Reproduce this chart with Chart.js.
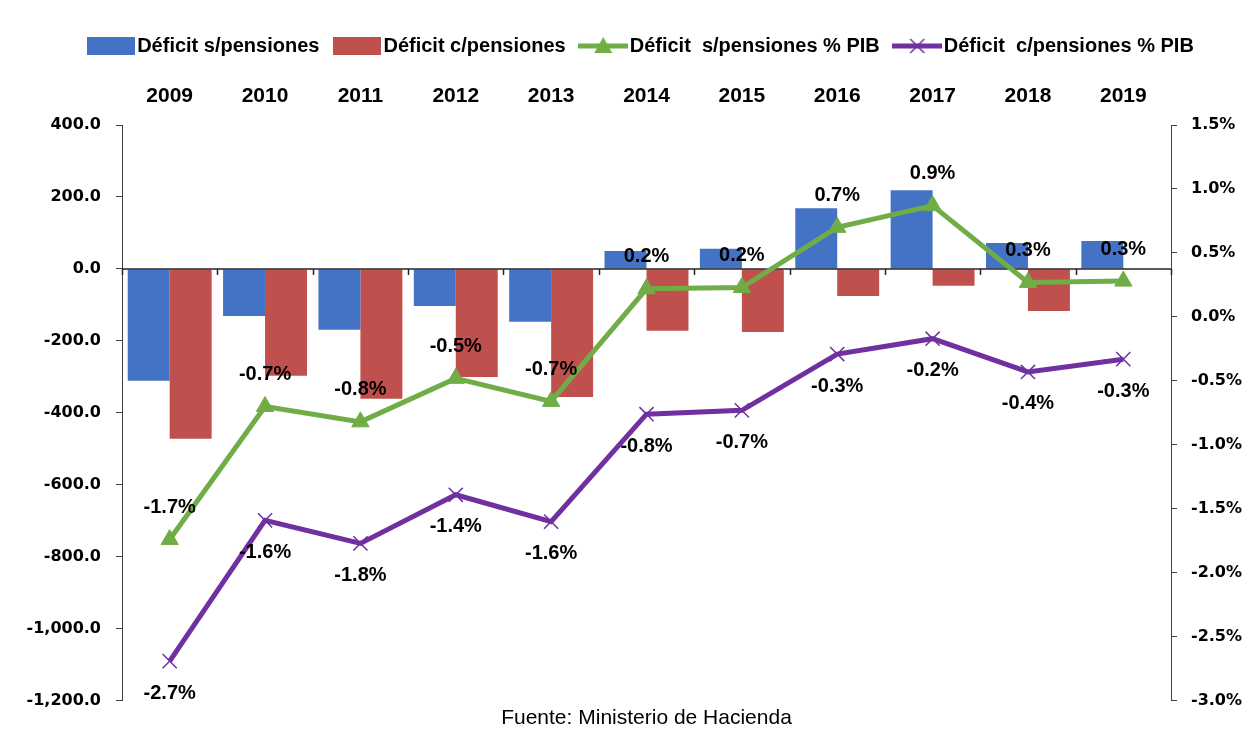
<!DOCTYPE html>
<html><head><meta charset="utf-8">
<script src="https://cdn.jsdelivr.net/npm/chart.js@4"></script>
<style>html,body{margin:0;padding:0;background:#fff}#wrap{width:1248px;height:754px}</style>
</head><body><div id="wrap"><canvas id="c" width="1248" height="754"></canvas></div>
<script>
const years = ['2009','2010','2011','2012','2013','2014','2015','2016','2017','2018','2019'];
const deficitSinPensiones = [-311,-131,-169,-103,-147,50,56,169,219,72,78];
const deficitConPensiones = [-472,-297,-361,-300,-356,-172,-175,-75,-47,-117,null];
const pibSinPensiones = [-1.74,-0.70,-0.82,-0.48,-0.66,0.22,0.23,0.70,0.87,0.27,0.28];
const pibConPensiones = [-2.69,-1.59,-1.77,-1.39,-1.60,-0.76,-0.73,-0.29,-0.17,-0.43,-0.33];
const seriesNames = ['Déficit s/pensiones','Déficit c/pensiones','Déficit  s/pensiones % PIB','Déficit  c/pensiones % PIB'];
const sourceText = 'Fuente: Ministerio de Hacienda';

const BLUE='#4472C4', RED='#C0504D', GREEN='#70AD47', PURPLE='#7030A0';
const LABEL_FONT = 'bold 20px "Liberation Sans", Arial, sans-serif';

function boxImg(color){
  const c=document.createElement('canvas'); c.width=48; c.height=18;
  const x=c.getContext('2d'); x.fillStyle=color; x.fillRect(0,0,48,18); return c;
}
function lineImg(color, marker){
  const c=document.createElement('canvas'); c.width=50; c.height=22;
  const x=c.getContext('2d'); x.strokeStyle=color; x.lineWidth=5;
  x.beginPath(); x.moveTo(0,11); x.lineTo(50,11); x.stroke();
  if(marker==='tri'){
    x.fillStyle=color; x.beginPath(); x.moveTo(25,2); x.lineTo(34,18); x.lineTo(16,18); x.closePath(); x.fill();
  } else {
    x.lineWidth=1.5; x.beginPath(); x.moveTo(18,4); x.lineTo(32,18); x.moveTo(32,4); x.lineTo(18,18); x.stroke();
  }
  return c;
}
const legendImgs=[boxImg(BLUE),boxImg(RED),lineImg(GREEN,'tri'),lineImg(PURPLE,'x')];

const overlay = {
  id:'overlay',
  afterLayout(chart){ if(chart.legend){ chart.legend.left += 40; } },
  afterDatasetDraw(chart,args){
    if(args.index!==0) return;
    const ctx=chart.ctx, a=chart.chartArea, y0=chart.scales.y.getPixelForValue(0);
    const n=years.length, w=(a.right-a.left)/n;
    ctx.save(); ctx.strokeStyle='#262626'; ctx.lineWidth=1.5;
    ctx.beginPath(); ctx.moveTo(a.left,y0); ctx.lineTo(a.right,y0);
    for(let k=0;k<=n;k++){ const x=Math.round(a.left+k*w)+0.5; ctx.moveTo(x,y0); ctx.lineTo(x,y0+6); }
    ctx.stroke(); ctx.restore();
  },
  afterDatasetsDraw(chart){
    const ctx=chart.ctx; ctx.save(); ctx.font=LABEL_FONT; ctx.fillStyle='#000';
    ctx.textAlign='center'; ctx.textBaseline='middle';
    [[2,-32],[3,32]].forEach(([di,off])=>{
      const meta=chart.getDatasetMeta(di), data=chart.data.datasets[di].data;
      meta.data.forEach((pt,i)=>{ ctx.fillText(data[i].toFixed(1)+'%', pt.x, pt.y+off); });
    });
    ctx.restore();
  }
};

new Chart(document.getElementById('c'),{
  data:{
    labels:years,
    datasets:[
      {type:'bar',label:seriesNames[0],data:deficitSinPensiones,backgroundColor:BLUE,yAxisID:'y',order:2,barPercentage:1,categoryPercentage:0.88},
      {type:'bar',label:seriesNames[1],data:deficitConPensiones,backgroundColor:RED,yAxisID:'y',order:2,barPercentage:1,categoryPercentage:0.88},
      {type:'line',label:seriesNames[2],data:pibSinPensiones,borderColor:GREEN,backgroundColor:GREEN,borderWidth:5,pointStyle:'triangle',pointRadius:10,pointHoverRadius:10,pointBorderWidth:1,yAxisID:'y1',order:1,tension:0},
      {type:'line',label:seriesNames[3],data:pibConPensiones,borderColor:PURPLE,backgroundColor:PURPLE,borderWidth:5,pointStyle:'crossRot',pointRadius:10,pointHoverRadius:10,pointBorderWidth:1.5,yAxisID:'y1',order:1,tension:0}
    ]
  },
  options:{
    responsive:false, animation:false, events:[],
    layout:{padding:{left:0,right:0,top:15,bottom:0}},
    plugins:{
      tooltip:{enabled:false},
      legend:{position:'top',fullSize:true,labels:{
        usePointStyle:true,pointStyleWidth:33,padding:21,color:'#000',
        font:{family:'"Liberation Sans", Arial, sans-serif',size:20,weight:'bold'},
        generateLabels(chart){
          return chart.data.datasets.map((d,i)=>({text:d.label,pointStyle:legendImgs[i],datasetIndex:i,hidden:false,fontColor:'#000',lineWidth:0,strokeStyle:'transparent',fillStyle:'transparent'}));
        }
      }},
      title:{display:true,position:'bottom',fullSize:false,text:sourceText,color:'#000',
        font:{family:'"Liberation Sans", Arial, sans-serif',size:21,weight:'normal'},padding:{top:5,bottom:23}}
    },
    scales:{
      x:{type:'category',position:'top',offset:true,
        grid:{display:false,drawTicks:false},border:{display:false},
        ticks:{color:'#000',padding:16,maxRotation:0,font:{family:'"Liberation Sans", Arial, sans-serif',size:21,weight:'bold'}},
        afterFit(s){s.height=59;}},
      y:{position:'left',min:-1200,max:400,
        ticks:{stepSize:200,color:'#000',padding:15,font:{family:'"DejaVu Sans", Verdana, sans-serif',size:16,weight:'bold'},
          callback:v=>Number(v).toLocaleString('en-US',{minimumFractionDigits:1,maximumFractionDigits:1})},
        grid:{drawOnChartArea:false,drawTicks:true,tickLength:6,color:'#404040'},
        border:{display:true,color:'#404040',width:1},
        afterFit(s){s.width=122;}},
      y1:{position:'right',min:-3,max:1.5,
        ticks:{stepSize:0.5,color:'#000',padding:14,font:{family:'"DejaVu Sans", Verdana, sans-serif',size:16,weight:'bold'},
          callback:v=>Number(v).toFixed(1)+'%'},
        grid:{drawOnChartArea:false,drawTicks:true,tickLength:6,color:'#404040'},
        border:{display:true,color:'#404040',width:1},
        afterFit(s){s.width=77;}}
    }
  },
  plugins:[overlay]
});
</script></body></html>
